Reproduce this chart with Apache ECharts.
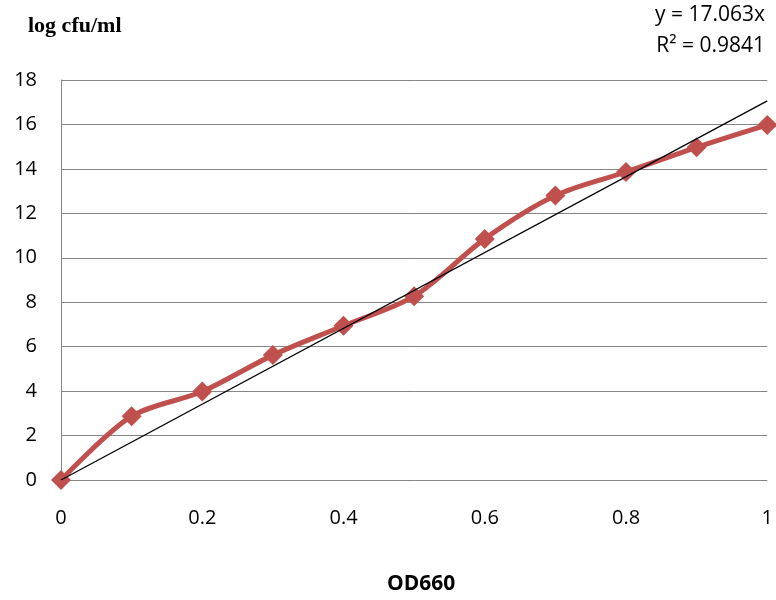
<!DOCTYPE html>
<html>
<head>
<meta charset="utf-8">
<script src="https://cdn.jsdelivr.net/npm/echarts@6/dist/echarts.min.js"></script>
<style>html,body{margin:0;padding:0;background:#fff;}#c{width:776px;height:600px;}</style>
</head>
<body>
<div id="c"></div>
<script>
const odValues = [0, 0.1, 0.2, 0.3, 0.4, 0.5, 0.6, 0.7, 0.8, 0.9, 1.0];
const logCfu = [0, 2.87, 3.98, 5.62, 6.94, 8.27, 10.85, 12.8, 13.86, 14.97, 15.98];
const trendSlope = 17.063;
const trendX = [0, 1];
const equationLines = ['y = 17.063x', 'R² = 0.9841'];
const yAxisTitle = 'log cfu/ml';
const xAxisTitle = 'OD660';

const chart = echarts.init(document.getElementById('c'), null, {renderer: 'canvas'});
const font = '"Open Sans", "Liberation Sans", sans-serif';
chart.setOption({
  animation: false,
  backgroundColor: '#ffffff',
  grid: {left: 61, right: 7, top: 80, bottom: 120},
  xAxis: {
    type: 'value', min: 0, max: 1, interval: 0.2,
    axisLine: {show: false},
    axisTick: {show: false},
    splitLine: {show: false},
    axisLabel: {fontFamily: font, fontSize: 20, color: '#000', margin: 28,
      formatter: v => (Math.round(v * 10) / 10).toString()}
  },
  yAxis: {
    type: 'value', min: 0, max: 18, interval: 2,
    axisLine: {show: true, lineStyle: {color: '#868686', width: 1}},
    axisTick: {show: false},
    splitLine: {show: true, lineStyle: {color: '#868686', width: 1}},
    axisLabel: {fontFamily: font, fontSize: 20, color: '#000', margin: 24}
  },
  graphic: [
    {type: 'text', left: 28, top: 15, style: {text: yAxisTitle, font: 'bold 22px "Liberation Serif", "Times New Roman", serif', fill: '#000'}},
    {type: 'text', right: 11, top: 0, style: {text: equationLines.join('\n'), font: '21px ' + font, fill: '#000', textAlign: 'right', lineHeight: 31}},
    {type: 'text', left: 387, top: 574, style: {text: xAxisTitle, font: 'bold 21px ' + font, fill: '#000'}}
  ],
  series: [
    {
      type: 'line', data: odValues.map((x, i) => [x, logCfu[i]]),
      smooth: 0.3,
      symbol: 'diamond', symbolSize: 20,
      lineStyle: {color: '#C0504D', width: 5},
      itemStyle: {color: '#C0504D'},
      z: 2
    },
    {
      type: 'line', data: trendX.map(x => [x, x * trendSlope]),
      symbol: 'none',
      lineStyle: {color: '#000', width: 1.3},
      z: 3
    }
  ]
});
</script>
</body>
</html>
